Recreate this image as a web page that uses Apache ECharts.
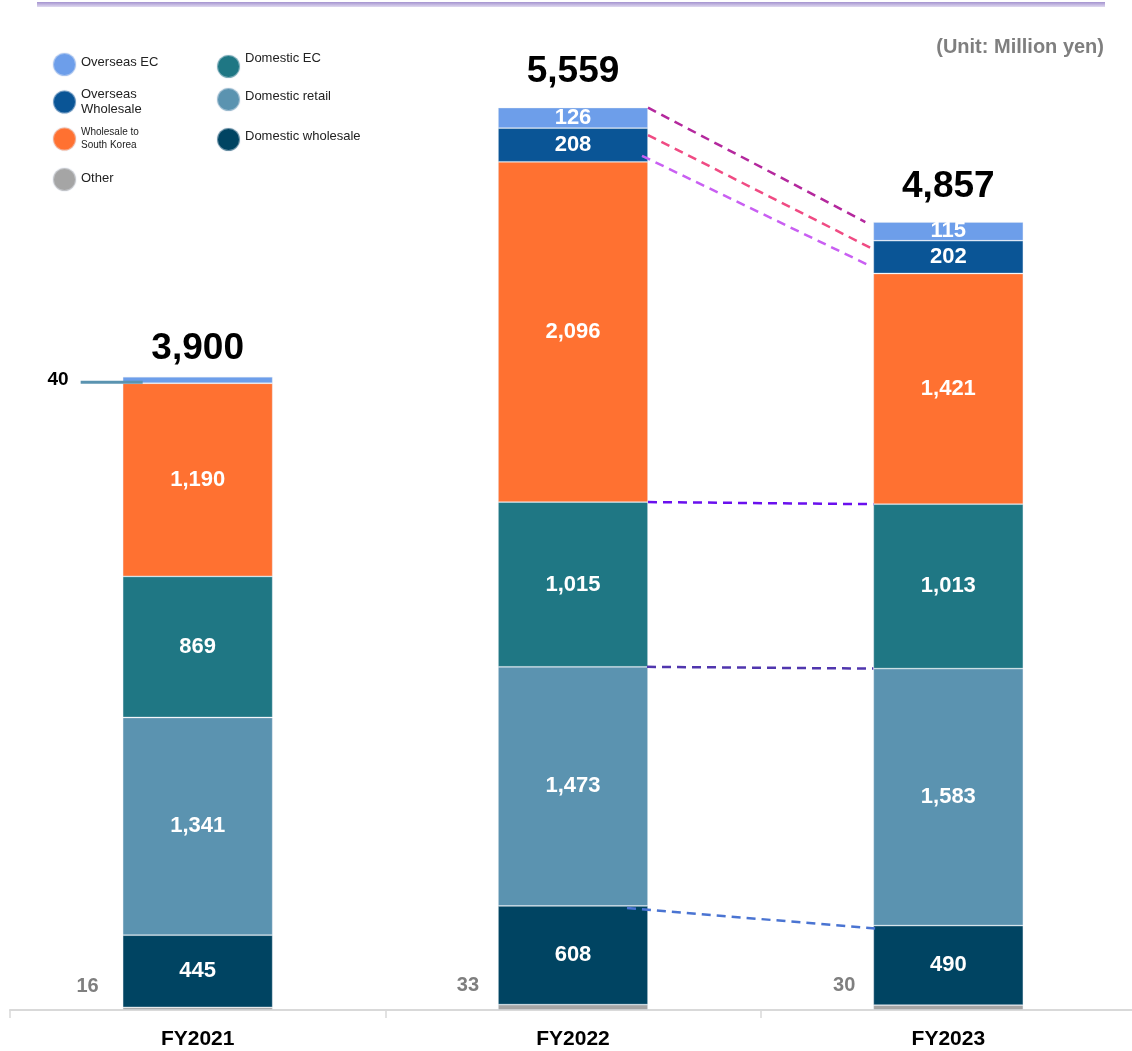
<!DOCTYPE html>
<html>
<head>
<meta charset="utf-8">
<script src="https://cdn.jsdelivr.net/npm/echarts@6/dist/echarts.min.js"></script>
<style>
html,body{margin:0;padding:0;background:#fff;}
#chart{width:1132px;height:1051px;}
</style>
</head>
<body>
<div id="chart"></div>
<script>
// ---- data ----
var categories = ['FY2021', 'FY2022', 'FY2023'];
var other = [16, 33, 30];
var domesticWholesale = [445, 608, 490];
var domesticRetail = [1341, 1473, 1583];
var domesticEC = [869, 1015, 1013];
var southKorea = [1190, 2096, 1421];
var overseasWholesale = [0, 208, 202];
var overseasEC = [40, 126, 115];
var totals = [3900, 5559, 4857];
var yTicksMax = 6000;

// ---- styles ----
var FONT = '"Liberation Sans", Arial, sans-serif';
var BAR_W = 150;
var seriesDefs = [
  {name: 'Other', data: other, color: '#a5a5a5'},
  {name: 'Domestic wholesale', data: domesticWholesale, color: '#004462'},
  {name: 'Domestic retail', data: domesticRetail, color: '#5b93b0'},
  {name: 'Domestic EC', data: domesticEC, color: '#1f7784'},
  {name: 'Wholesale to South Korea', data: southKorea, color: '#ff7131'},
  {name: 'Overseas Wholesale', data: overseasWholesale, color: '#0a5596'},
  {name: 'Overseas EC', data: overseasEC, color: '#6d9eea'}
];

function cumTop(seriesIdx, cat) {
  var s = 0;
  for (var i = 0; i <= seriesIdx; i++) s += seriesDefs[i].data[cat];
  return s;
}

var connectorStyles = [
  {level: 6, color: '#b4289d', startInset: 0, endInset: 8, dy1: 0, dy2: 0},
  {level: 5, color: '#f04b83', startInset: 0, endInset: 3, dy1: 7, dy2: 7},
  {level: 4, color: '#c95ff2', startInset: 6, endInset: 4, dy1: -6, dy2: -8},
  {level: 3, color: '#6a10ee', startInset: 0, endInset: 0, dy1: 0, dy2: 0},
  {level: 2, color: '#5036ae', startInset: 1, endInset: 0, dy1: 0, dy2: 0},
  {level: 1, color: '#4a74d2', startInset: 21, endInset: -2, dy1: 2, dy2: 3}
];
var connectorData = connectorStyles.map(function (c) {
  return [1, cumTop(c.level, 1), 2, cumTop(c.level, 2)];
});

var chart = echarts.init(document.getElementById('chart'));

var inner = {
  show: true, position: 'inside', color: '#fff', fontFamily: FONT,
  fontWeight: 'bold', fontSize: 22,
  formatter: function (p) { return p.value ? echarts.format.addCommas(p.value) : ''; }
};

var otherDist = [24, 19, 18];
var series = seriesDefs.map(function (d, si) {
  var data = d.data.map(function (v, ci) {
    var item = {value: v};
    if (d.name === 'Other') {
      item.label = {show: true, position: 'left', distance: otherDist[ci], offset: [0, -22],
        color: '#7f7f7f', fontSize: 20, fontWeight: 'bold', fontFamily: FONT,
        formatter: function (p) { return String(p.value); }};
    }
    if (d.name === 'Overseas EC' && ci === 0) {
      item.label = {show: true, position: 'left', distance: 54, offset: [0, 0],
        color: '#000', fontSize: 19, fontWeight: 'bold', fontFamily: FONT,
        formatter: function (p) { return String(p.value); }};
    }
    return item;
  });
  return {
    name: d.name, type: 'bar', stack: 'total', barWidth: BAR_W,
    data: data, label: inner,
    itemStyle: {color: d.color, borderColor: 'rgba(230,236,245,0.45)', borderWidth: 0.8},
    emphasis: {disabled: true}, z: 2
  };
});

var totalDist = [9, 17, 17];
series.push({
  name: 'Total', type: 'bar', stack: 'total', barWidth: BAR_W,
  data: totals.map(function (t, i) {
    return {value: 0, label: {distance: totalDist[i]}};
  }),
  itemStyle: {color: 'transparent'},
  label: {show: true, position: 'top', color: '#000', fontFamily: FONT,
    fontWeight: 'bold', fontSize: 37,
    formatter: function (p) { return echarts.format.addCommas(totals[p.dataIndex]); }},
  emphasis: {disabled: true}, z: 3
});

series.push({
  name: 'connectors', type: 'custom', z: 5, silent: true,
  data: connectorData,
  encode: {x: [0, 2], y: [1, 3]},
  renderItem: function (params, api) {
    var st = connectorStyles[params.dataIndex];
    var p1 = api.coord([api.value(0), api.value(1)]);
    var p2 = api.coord([api.value(2), api.value(3)]);
    var h = BAR_W / 2;
    return {
      type: 'line',
      shape: {x1: p1[0] + h - st.startInset, y1: p1[1] + st.dy1,
              x2: p2[0] - h - st.endInset, y2: p2[1] + st.dy2},
      style: {stroke: st.color, lineWidth: 2.5, lineDash: [9, 6]}
    };
  }
});

series.push({
  name: 'callout', type: 'custom', z: 6, silent: true,
  data: [[0, cumTop(5, 0)]],
  encode: {x: 0, y: 1},
  renderItem: function (params, api) {
    var p = api.coord([api.value(0), api.value(1)]);
    var left = p[0] - BAR_W / 2;
    return {
      type: 'line',
      shape: {x1: left - 42, y1: p[1] - 1, x2: left + 20, y2: p[1] - 1},
      style: {stroke: '#5a93b0', lineWidth: 3}
    };
  }
});

function legendAt(name, left, top, fmt, textStyle) {
  return {
    data: [name], left: left, top: top, orient: 'vertical',
    icon: 'circle', itemWidth: 23, itemHeight: 23, itemGap: 0,
    selectedMode: false, padding: 0,
    formatter: fmt || undefined,
    textStyle: Object.assign({fontFamily: FONT, fontSize: 13, color: '#222', lineHeight: 15}, textStyle || {})
  };
}

var option = {
  animation: false,
  backgroundColor: '#fff',
  grid: {left: 10, right: -4, top: 36, bottom: 41, outerBoundsMode: 'none', containLabel: false},
  xAxis: {
    type: 'category', data: categories,
    axisLine: {lineStyle: {color: '#d9d9d9', width: 2}},
    axisTick: {show: true, length: 8, lineStyle: {color: '#d9d9d9', width: 1.5}},
    axisLabel: {color: '#000', fontWeight: 'bold', fontSize: 21, fontFamily: FONT, margin: 19}
  },
  yAxis: {type: 'value', min: 0, max: yTicksMax, show: false, splitLine: {show: false}},
  legend: [
    legendAt('Overseas EC', 52, 52, function () { return '{a|Overseas EC}'; },
      {rich: {a: {fontSize: 13, color: '#222', fontFamily: FONT, padding: [0, 0, 5, 0]}}}),
    legendAt('Overseas Wholesale', 52, 87, function () { return 'Overseas\nWholesale'; }),
    legendAt('Wholesale to South Korea', 52, 126, function () { return 'Wholesale to\nSouth Korea'; }, {fontSize: 10, lineHeight: 13}),
    legendAt('Other', 52, 167, function () { return '{a|Other}'; },
      {rich: {a: {fontSize: 13, color: '#222', fontFamily: FONT, padding: [0, 0, 3, 0]}}}),
    legendAt('Domestic EC', 216, 52, function () { return '{a|Domestic EC}'; },
      {rich: {a: {fontSize: 13, color: '#222', fontFamily: FONT, padding: [0, 0, 16, 0]}}}),
    legendAt('Domestic retail', 216, 87, function () { return '{a|Domestic retail}'; },
      {rich: {a: {fontSize: 13, color: '#222', fontFamily: FONT, padding: [0, 0, 6, 0]}}}),
    legendAt('Domestic wholesale', 216, 127, function () { return '{a|Domestic wholesale}'; },
      {rich: {a: {fontSize: 13, color: '#222', fontFamily: FONT, padding: [0, 0, 7, 0]}}})
  ],
  graphic: [
    {type: 'rect', left: 37, top: 2, shape: {width: 1068, height: 5},
     style: {fill: new echarts.graphic.LinearGradient(0, 0, 0, 1, [
       {offset: 0, color: '#a493cf'}, {offset: 1, color: '#e0daf0'}])}, z: 10},
    {type: 'text', right: 28, top: 37,
     style: {text: '(Unit: Million yen)', font: 'bold 20px ' + FONT, fill: '#7f7f7f'}, z: 10}
  ],
  series: series
};
chart.setOption(option);
</script>
</body>
</html>
